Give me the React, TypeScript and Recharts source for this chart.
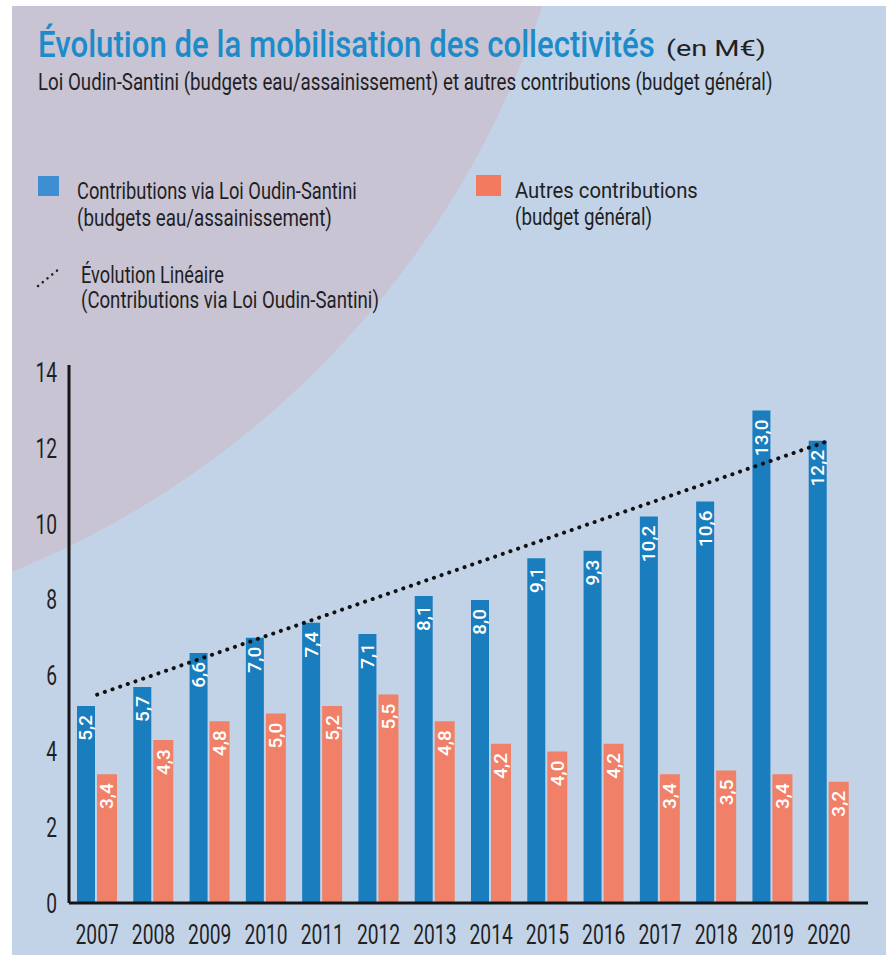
import { useLayoutEffect, useRef, useState } from 'react';
import { Bar, Line, XAxis, YAxis, LabelList, ComposedChart } from 'recharts';

const years = ['2007', '2008', '2009', '2010', '2011', '2012', '2013', '2014', '2015', '2016', '2017', '2018', '2019', '2020'];
const loiOudin = [5.2, 5.7, 6.6, 7.0, 7.4, 7.1, 8.1, 8.0, 9.1, 9.3, 10.2, 10.6, 13.0, 12.2];
const autres = [3.4, 4.3, 4.8, 5.0, 5.2, 5.5, 4.8, 4.2, 4.0, 4.2, 3.4, 3.5, 3.4, 3.2];
// trend line at first and last year
const trendStart = 5.5;
const trendEnd = 12.2;
const yTicks = [0, 2, 4, 6, 8, 10, 12, 14];

const data = years.map((year, i) => ({
  year,
  loi: loiOudin[i],
  autres: autres[i],
  trend: i === 0 ? trendStart : i === years.length - 1 ? trendEnd : null,
}));

const FONT = "Roboto, 'Noto Sans', sans-serif";
const BLUE = '#1a7dbd';
const SALMON = '#f08068';
const INK = '#1f1f24';

const fmt = (v: number) => v.toFixed(1).replace('.', ',');

// text squeezed horizontally to a given width (the original uses a condensed face)
function NarrowText({ x, y, width, children, ...rest }: any) {
  const ref = useRef<SVGTextElement>(null);
  const [sx, setSx] = useState(1);
  useLayoutEffect(() => {
    const w = ref.current ? ref.current.getComputedTextLength() : 0;
    if (w > 0) setSx(width / w);
  }, [width]);
  return (
    <text ref={ref} x={0} y={0} transform={`translate(${x},${y}) scale(${sx},1)`} {...rest}>
      {children}
    </text>
  );
}

function ValueLabel(props: any) {
  const { x, y, width, value } = props;
  const cx = x + width / 2;
  const ty = y + 9;
  return (
    <text
      x={cx}
      y={ty}
      transform={`rotate(-90, ${cx}, ${ty})`}
      textAnchor="end"
      dominantBaseline="central"
      fill="#ffffff"
      fontSize={19}
      fontWeight={500}
      fontFamily={FONT}
    >
      {fmt(value)}
    </text>
  );
}

function XTick(props: any) {
  const { x, y, payload } = props;
  const label = String(payload.value);
  return (
    <text x={x} y={y} dy="0.71em" textAnchor="middle" fontSize={27} fontFamily={FONT} fill={INK}
      textLength={label.length * 10.8} lengthAdjust="spacingAndGlyphs">
      {label}
    </text>
  );
}

function YTick(props: any) {
  const { x, y, payload } = props;
  const label = String(payload.value);
  return (
    <text x={x} y={y} dy="0.355em" textAnchor="end" fontSize={27} fontFamily={FONT} fill={INK}
      textLength={label.length * 10.8} lengthAdjust="spacingAndGlyphs">
      {label}
    </text>
  );
}

function Background() {
  return (
    <svg width={886} height={955} style={{ position: 'absolute', left: 0, top: 0 }}>
      <defs>
        <clipPath id="bgclip">
          <rect x={12} y={6} width={874} height={949} />
        </clipPath>
      </defs>
      <rect x={0} y={0} width={886} height={955} fill="#ffffff" />
      <g clipPath="url(#bgclip)">
        <rect x={12} y={6} width={874} height={949} fill="#c2d3e8" />
        <circle cx={-337} cy={-287} r={927} fill="#c8c4d3" />
      </g>
    </svg>
  );
}

function Header() {
  const t = { fontFamily: FONT, fill: INK };
  return (
    <svg width={886} height={330} style={{ position: 'absolute', left: 0, top: 0 }}>
      <NarrowText x={38} y={57} width={617} fontSize={37} fill="#1d8bc9" fontFamily={FONT} fontWeight={500}>
        Évolution de la mobilisation des collectivités
      </NarrowText>
      <NarrowText x={666} y={56} width={100} fontSize={22} {...t}>
        (en M€)
      </NarrowText>
      <NarrowText x={38} y={90} width={735} fontSize={24} {...t}>
        Loi Oudin-Santini (budgets eau/assainissement) et autres contributions (budget général)
      </NarrowText>

      <rect x={38} y={176} width={21} height={20} fill="#3d8fd1" />
      <NarrowText x={77} y={199} width={280} fontSize={23} {...t}>
        Contributions via Loi Oudin-Santini
      </NarrowText>
      <NarrowText x={77} y={226} width={255} fontSize={23} {...t}>
        (budgets eau/assainissement)
      </NarrowText>

      <rect x={476} y={175} width={25} height={21} fill="#f37a5e" />
      <NarrowText x={515} y={198} width={183} fontSize={23} {...t}>
        Autres contributions
      </NarrowText>
      <NarrowText x={515} y={225} width={137} fontSize={23} {...t}>
        (budget général)
      </NarrowText>

      <line x1={38} y1={286} x2={59} y2={269} stroke={INK} strokeWidth={2.5} strokeDasharray="0.1 6" strokeLinecap="round" />
      <NarrowText x={81} y={283} width={143} fontSize={23} {...t}>
        Évolution Linéaire
      </NarrowText>
      <NarrowText x={81} y={308} width={298} fontSize={23} {...t}>
        (Contributions via Loi Oudin-Santini)
      </NarrowText>
    </svg>
  );
}

export default function App() {
  return (
    <div style={{ position: 'absolute', left: 0, top: 0, width: 886, height: 955, overflow: 'hidden' }}>
      <Background />
      <div style={{ position: 'absolute', left: 0, top: 0 }}>
        <ComposedChart
          width={886}
          height={955}
          data={data}
          margin={{ top: 365, right: 18, bottom: 12, left: 19 }}
          barGap={2}
        >
          <XAxis
            dataKey="year"
            padding={{ left: 0, right: 11 }}
            axisLine={{ stroke: '#151515', strokeWidth: 3 }}
            tickLine={false}
            tickSize={0}
            tickMargin={22}
            height={40}
            tick={<XTick />}
          />
          <YAxis
            domain={[0, 14.2]}
            ticks={yTicks}
            width={50}
            axisLine={{ stroke: '#151515', strokeWidth: 3 }}
            tickLine={false}
            tickSize={0}
            tickMargin={12}
            tick={<YTick />}
          />
          <Bar dataKey="loi" fill={BLUE} barSize={18} isAnimationActive={false}>
            <LabelList dataKey="loi" content={<ValueLabel />} />
          </Bar>
          <Bar dataKey="autres" fill={SALMON} barSize={20} isAnimationActive={false}>
            <LabelList dataKey="autres" content={<ValueLabel />} />
          </Bar>
          <Line
            dataKey="trend"
            type="linear"
            connectNulls
            stroke="#111111"
            strokeWidth={4}
            strokeDasharray="0.1 8"
            strokeLinecap="round"
            dot={false}
            activeDot={false}
            isAnimationActive={false}
          />
        </ComposedChart>
      </div>
      <Header />
    </div>
  );
}
